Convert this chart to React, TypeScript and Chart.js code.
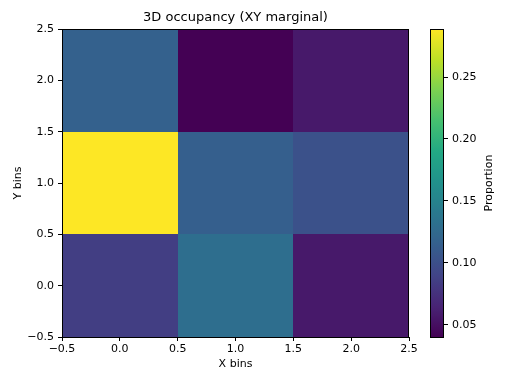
import React, { useEffect, useRef } from "react";
import { Chart, registerables } from "chart.js";

Chart.register(...registerables);

// ---- data ----
const xBins = [0, 1, 2];
const yBins = [0, 1, 2];
// rows indexed by y bin (bottom to top), columns by x bin
const row0 = [0.085, 0.13, 0.057];
const row1 = [0.2888, 0.115, 0.102];
const row2 = [0.117, 0.0401, 0.057];
const rows = [row0, row1, row2];
const axisTicks = [-0.5, 0.0, 0.5, 1.0, 1.5, 2.0, 2.5];
const colorbarTicks = [0.05, 0.1, 0.15, 0.2, 0.25];
const titleText = "3D occupancy (XY marginal)";
const xLabel = "X bins";
const yLabel = "Y bins";
const cbLabel = "Proportion";

const allVals = rows.flat();
const vmin = Math.min(...allVals);
const vmax = Math.max(...allVals);

// viridis colormap stops
const VIRIDIS = [
  "#440154", "#482475", "#414487", "#355f8d", "#2a788e", "#21918c",
  "#22a884", "#44bf70", "#7ad151", "#bddf26", "#fde725",
];
function hexToRgb(h: string) {
  return [parseInt(h.slice(1, 3), 16), parseInt(h.slice(3, 5), 16), parseInt(h.slice(5, 7), 16)];
}
function viridis(t: number) {
  t = Math.max(0, Math.min(1, t));
  const n = VIRIDIS.length - 1;
  const i = Math.min(n - 1, Math.floor(t * n));
  const f = t * n - i;
  const a = hexToRgb(VIRIDIS[i]);
  const b = hexToRgb(VIRIDIS[i + 1]);
  const c = a.map((v, k) => Math.round(v + (b[k] - v) * f));
  return `rgb(${c[0]},${c[1]},${c[2]})`;
}

const FONT = "'DejaVu Sans', sans-serif";
const fmtAxis = (v: number) => v.toFixed(1).replace("-", "\u2212");
const fmtCb = (v: number) => v.toFixed(2);

const W = 511;
const H = 383;

const heatmapPlugin = {
  id: "heatmap",
  beforeDatasetsDraw(chart: any) {
    const { ctx, scales } = chart;
    const xs = scales.x;
    const ys = scales.y;
    ctx.save();
    yBins.forEach((yb, r) => {
      xBins.forEach((xb, c) => {
        const v = rows[r][c];
        const x0 = Math.round(xs.getPixelForValue(xb - 0.5));
        const x1 = Math.round(xs.getPixelForValue(xb + 0.5));
        const y0 = Math.round(ys.getPixelForValue(yb + 0.5));
        const y1 = Math.round(ys.getPixelForValue(yb - 0.5));
        ctx.fillStyle = viridis((v - vmin) / (vmax - vmin));
        ctx.fillRect(x0, y0, x1 - x0, y1 - y0);
      });
    });
    ctx.restore();
  },
  afterDraw(chart: any) {
    const { ctx, chartArea: a } = chart;
    ctx.save();
    ctx.strokeStyle = "#000";
    ctx.lineWidth = 1;
    ctx.strokeRect(a.left + 0.5, a.top + 0.5, a.right - a.left - 1, a.bottom - a.top);
    ctx.fillStyle = "#000";
    ctx.textAlign = "center";
    ctx.textBaseline = "middle";
    ctx.font = `13px ${FONT}`;
    ctx.fillText(titleText, (a.left + a.right) / 2, 18);
    ctx.font = `11px ${FONT}`;
    ctx.fillText(xLabel, (a.left + a.right) / 2, 364);
    ctx.translate(18, (a.top + a.bottom) / 2);
    ctx.rotate(-Math.PI / 2);
    ctx.fillText(yLabel, 0, 0);
    ctx.restore();
  },
};

const colorbarPlugin = {
  id: "colorbar",
  beforeDatasetsDraw(chart: any) {
    const { ctx, chartArea: a } = chart;
    ctx.save();
    const g = ctx.createLinearGradient(0, a.bottom, 0, a.top);
    for (let i = 0; i <= 100; i++) g.addColorStop(i / 100, viridis(i / 100));
    ctx.fillStyle = g;
    ctx.fillRect(a.left, a.top, a.right - a.left, a.bottom - a.top);
    ctx.restore();
  },
  afterDraw(chart: any) {
    const { ctx, chartArea: a } = chart;
    ctx.save();
    ctx.strokeStyle = "#000";
    ctx.lineWidth = 1;
    ctx.strokeRect(a.left + 0.5, a.top + 0.5, a.right - a.left - 1, a.bottom - a.top);
    ctx.fillStyle = "#000";
    ctx.textAlign = "center";
    ctx.textBaseline = "middle";
    ctx.font = `11px ${FONT}`;
    ctx.translate(489, (a.top + a.bottom) / 2);
    ctx.rotate(-Math.PI / 2);
    ctx.fillText(cbLabel, 0, 0);
    ctx.restore();
  },
};

const tickFont = { family: FONT, size: 11 };

export default function App() {
  const mainRef = useRef<HTMLCanvasElement>(null);
  const cbRef = useRef<HTMLCanvasElement>(null);

  useEffect(() => {
    const main = new Chart(mainRef.current!, {
      type: "scatter",
      data: { datasets: [{ data: [], pointRadius: 0 }] },
      plugins: [heatmapPlugin],
      options: {
        animation: false,
        responsive: false,
        maintainAspectRatio: false,
        layout: { padding: { left: 0, top: 29, right: 102, bottom: 0 } },
        plugins: { legend: { display: false }, title: { display: false }, tooltip: { enabled: false } },
        scales: {
          x: {
            type: "linear",
            min: -0.5,
            max: 2.5,
            afterBuildTicks: (s: any) => { s.ticks = axisTicks.map((v) => ({ value: v })); },
            afterFit: (s: any) => { s.height = 46; s.paddingLeft = 0; s.paddingRight = 0; },
            border: { display: false },
            grid: { drawOnChartArea: false, drawTicks: true, tickLength: 4, color: "#000", lineWidth: 1 },
            ticks: { color: "#000", font: tickFont, padding: 2, maxRotation: 0, autoSkip: false, callback: (v: any) => fmtAxis(Number(v)) },
          },
          y: {
            type: "linear",
            min: -0.5,
            max: 2.5,
            afterBuildTicks: (s: any) => { s.ticks = axisTicks.map((v) => ({ value: v })); },
            afterFit: (s: any) => { s.width = 62; s.paddingTop = 0; s.paddingBottom = 0; },
            border: { display: false },
            grid: { drawOnChartArea: false, drawTicks: true, tickLength: 4, color: "#000", lineWidth: 1 },
            ticks: { color: "#000", font: tickFont, padding: 4, autoSkip: false, callback: (v: any) => fmtAxis(Number(v)) },
          },
        },
      },
    } as any);

    const cb = new Chart(cbRef.current!, {
      type: "scatter",
      data: { datasets: [{ data: [], pointRadius: 0 }] },
      plugins: [colorbarPlugin],
      options: {
        animation: false,
        responsive: false,
        maintainAspectRatio: false,
        layout: { padding: { left: 430, top: 29, right: 0, bottom: 46 } },
        plugins: { legend: { display: false }, title: { display: false }, tooltip: { enabled: false } },
        scales: {
          x: { type: "linear", display: false, min: 0, max: 1 },
          y: {
            type: "linear",
            position: "right",
            min: vmin,
            max: vmax,
            afterBuildTicks: (s: any) => { s.ticks = colorbarTicks.map((v) => ({ value: v })); },
            afterFit: (s: any) => { s.width = 67; s.paddingTop = 0; s.paddingBottom = 0; },
            border: { display: false },
            grid: { drawOnChartArea: false, drawTicks: true, tickLength: 4, color: "#000", lineWidth: 1 },
            ticks: { color: "#000", font: tickFont, padding: 4, autoSkip: false, callback: (v: any) => fmtCb(Number(v)) },
          },
        },
      },
    } as any);

    return () => {
      main.destroy();
      cb.destroy();
    };
  }, []);

  return (
    <div style={{ position: "fixed", left: 0, top: 0, width: W, height: H, background: "#fff" }}>
      <canvas ref={mainRef} width={W} height={H} style={{ position: "absolute", left: 0, top: 0, width: W, height: H }} />
      <canvas ref={cbRef} width={W} height={H} style={{ position: "absolute", left: 0, top: 0, width: W, height: H, pointerEvents: "none" }} />
    </div>
  );
}
